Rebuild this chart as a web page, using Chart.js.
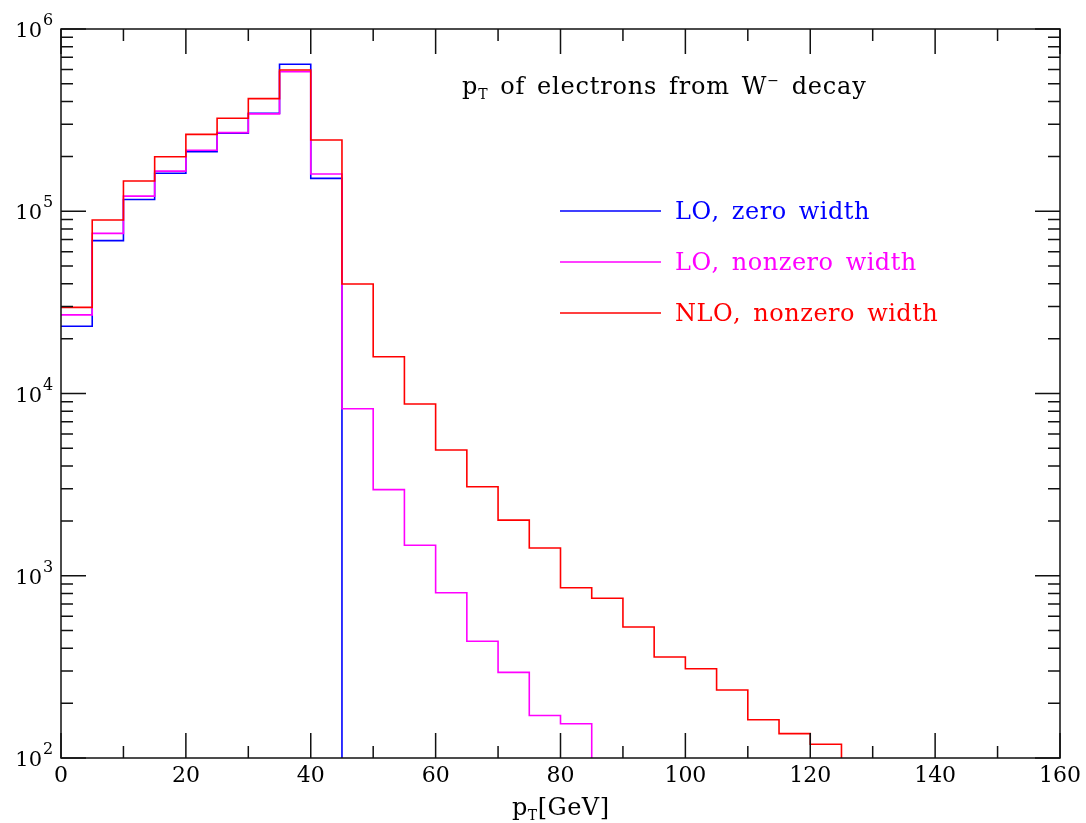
<!DOCTYPE html>
<html><head><meta charset="utf-8">
<script src="https://cdn.jsdelivr.net/npm/chart.js@4"></script>
<style>html,body{margin:0;padding:0;background:#fff}#wrap{width:1086px;height:823px;position:relative}</style>
</head><body><div id="wrap"><canvas id="c"></canvas></div>
<script>
// lower edges of the 5 GeV bins (pT in GeV)
const binStart = [0,5,10,15,20,25,30,35,40,45,50,55,60,65,70,75,80,85,90,95,100,105,110,115,120,125];
// bin contents; a trailing 0 marks where each histogram drops out
const loZeroWidth    = [23400, 69000, 116000, 161500, 212000, 268000, 345000, 640000, 151500, 0];
const loNonzeroWidth = [27000, 75600, 121000, 166000, 216000, 270000, 342000, 583000, 160000, 8250, 2970, 1470, 807, 437, 295, 171, 154, 0];
const nloNonzeroWidth= [29700, 89500, 146500, 199000, 264000, 324000, 415000, 596000, 246000, 39900, 15900, 8760, 4900, 3080, 2020, 1420, 860, 752, 523, 358, 309, 236, 162, 136, 119, 0];
const seriesNames  = ['LO, zero width', 'LO, nonzero width', 'NLO, nonzero width'];
const seriesColors = ['#0000ff', '#ff00ff', '#ff0000'];
const xTickLabels = [0, 20, 40, 60, 80, 100, 120, 140, 160];
const yTickExponents = [2, 3, 4, 5, 6];

// a log axis cannot show 0, so empty bins are drawn just below the axis floor (clipped)
const EMPTY = 1;
function toSteps(vals){
  const f = v => (v > 0 ? v : EMPTY);
  const pts = [{x: binStart[0], y: f(vals[0])}];
  for (let i=1;i<vals.length;i++){ pts.push({x: binStart[i], y: f(vals[i-1])}); pts.push({x: binStart[i], y: f(vals[i])}); }
  return pts;
}

const FONT = '"DejaVu Serif", "Liberation Serif", serif';

function drawRuns(ctx, runs, x, y, letterSp, wordSp, align){
  let total = 0;
  const items = [];
  runs.forEach(r=>{
    ctx.font = r.size + 'px ' + FONT;
    for (const ch of r.t){
      const w = ctx.measureText(ch).width + letterSp + (ch===' ' ? wordSp : 0);
      items.push({ch, w, size:r.size, dy:r.dy||0});
      total += w;
    }
  });
  total -= letterSp;
  let cx = align==='center' ? x - total/2 : x;
  ctx.textAlign = 'left';
  ctx.textBaseline = 'alphabetic';
  items.forEach(it=>{
    ctx.font = it.size + 'px ' + FONT;
    if (it.ch !== ' ') ctx.fillText(it.ch, cx, y + it.dy);
    cx += it.w;
  });
}

const framePlugin = {
  id: 'frame',
  afterDatasetsDraw(chart){
    const ctx = chart.ctx, a = chart.chartArea, xs = chart.scales.x, ys = chart.scales.y;
    ctx.save();
    ctx.strokeStyle = '#111';
    ctx.lineWidth = 1.5;
    ctx.strokeRect(a.left, a.top, a.right - a.left, a.bottom - a.top);
    ctx.beginPath();
    for (let i=0;i<xTickLabels.length;i++){
      const v = xTickLabels[i];
      const px = xs.getPixelForValue(v);
      ctx.moveTo(px, a.bottom); ctx.lineTo(px, a.bottom - 25);
      ctx.moveTo(px, a.top); ctx.lineTo(px, a.top + 25);
      if (i < xTickLabels.length-1){
        const pm = xs.getPixelForValue((v + xTickLabels[i+1])/2);
        ctx.moveTo(pm, a.bottom); ctx.lineTo(pm, a.bottom - 12);
        ctx.moveTo(pm, a.top); ctx.lineTo(pm, a.top + 12);
      }
    }
    for (let i=0;i<yTickExponents.length;i++){
      const e = yTickExponents[i];
      const py = ys.getPixelForValue(Math.pow(10,e));
      ctx.moveTo(a.left, py); ctx.lineTo(a.left + 25, py);
      ctx.moveTo(a.right, py); ctx.lineTo(a.right - 25, py);
      if (i < yTickExponents.length-1){
        for (let m=2;m<=9;m++){
          const pm = ys.getPixelForValue(m*Math.pow(10,e));
          ctx.moveTo(a.left, pm); ctx.lineTo(a.left + 12, pm);
          ctx.moveTo(a.right, pm); ctx.lineTo(a.right - 12, pm);
        }
      }
    }
    ctx.stroke();

    ctx.fillStyle = '#000';
    ctx.font = '22px ' + FONT;
    ctx.textAlign = 'center';
    ctx.textBaseline = 'alphabetic';
    xTickLabels.forEach(v=>{
      ctx.fillText(String(v), xs.getPixelForValue(v), a.bottom + 24);
    });
    yTickExponents.forEach(e=>{
      const py = ys.getPixelForValue(Math.pow(10,e));
      ctx.font = '21px ' + FONT;
      ctx.textAlign = 'right';
      ctx.fillText('10', 42, py + 8);
      ctx.font = '16px ' + FONT;
      ctx.textAlign = 'left';
      ctx.fillText(String(e), 43, py - 4);
    });
    drawRuns(ctx, [{t:'p', size:24}, {t:'T', size:14, dy:5}, {t:'[GeV]', size:24}], (a.left+a.right)/2, a.bottom + 57, 0.5, 0, 'center');
    drawRuns(ctx, [{t:'p', size:24}, {t:'T', size:14, dy:5}, {t:' of electrons from W', size:24}, {t:'\u2212', size:14, dy:-9}, {t:' decay', size:24}], 462, 94, 0.8, 3.5, 'left');
    seriesNames.forEach((name, i)=>{
      const ly = 211 + i*51;
      ctx.strokeStyle = seriesColors[i];
      ctx.lineWidth = 1.5;
      ctx.beginPath(); ctx.moveTo(560, ly); ctx.lineTo(661, ly); ctx.stroke();
      ctx.fillStyle = seriesColors[i];
      drawRuns(ctx, [{t:name, size:24}], 675, ly + 8, 0.5, 4, 'left');
    });
    ctx.restore();
  }
};

const datasets = [loZeroWidth, loNonzeroWidth, nloNonzeroWidth].map((vals, i)=>({
  label: seriesNames[i],
  data: toSteps(vals),
  borderColor: seriesColors[i],
  backgroundColor: seriesColors[i],
  borderWidth: 1.6,
  pointRadius: 0,
  fill: false,
  tension: 0,
  order: 2 - i
}));

new Chart(document.getElementById('c'), {
  type: 'line',
  data: { datasets },
  options: {
    responsive: true,
    maintainAspectRatio: false,
    animation: false,
    layout: { padding: { left: 61, top: 29, right: 26, bottom: 65 } },
    plugins: { legend: { display: false }, tooltip: { enabled: false } },
    scales: {
      x: { type: 'linear', min: 0, max: 160, display: false },
      y: { type: 'logarithmic', min: 100, max: 1000000, display: false }
    }
  },
  plugins: [framePlugin]
});
</script>
</body></html>
